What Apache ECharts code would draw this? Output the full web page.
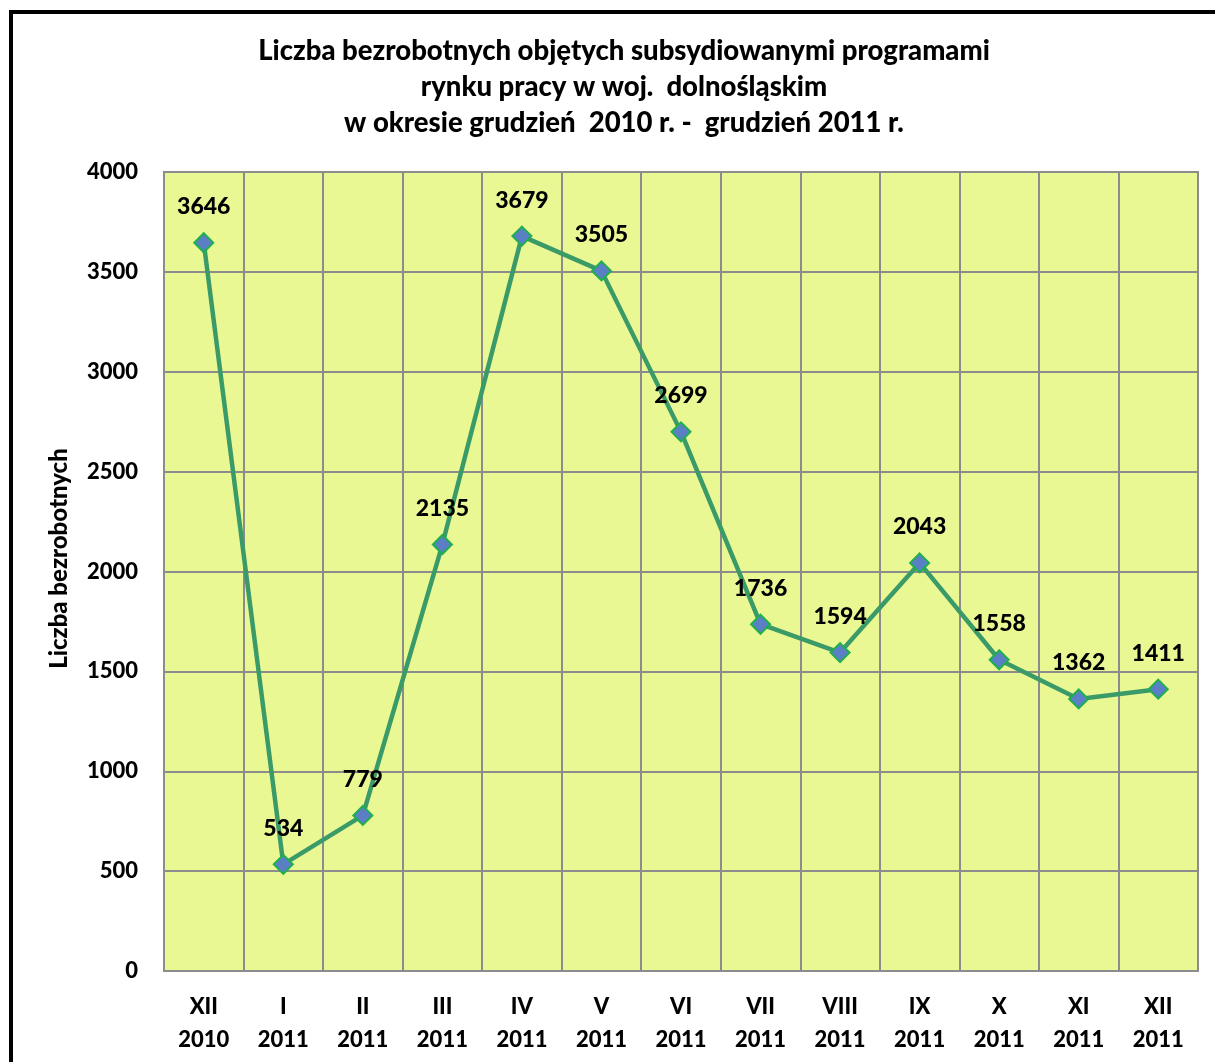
<!DOCTYPE html>
<html><head><meta charset="utf-8">
<script src="https://cdn.jsdelivr.net/npm/echarts@6/dist/echarts.min.js"></script>
<style>html,body{margin:0;padding:0;background:#fff}#c{width:1215px;height:1062px}</style>
</head><body><div id="c"></div>
<script>
const months = ['XII', 'I', 'II', 'III', 'IV', 'V', 'VI', 'VII', 'VIII', 'IX', 'X', 'XI', 'XII'];
const years = ['2010', '2011', '2011', '2011', '2011', '2011', '2011', '2011', '2011', '2011', '2011', '2011', '2011'];
const values = [3646, 534, 779, 2135, 3679, 3505, 2699, 1736, 1594, 2043, 1558, 1362, 1411];
const yTicks = [0, 500, 1000, 1500, 2000, 2500, 3000, 3500, 4000];
const titleLines = ['Liczba bezrobotnych objętych subsydiowanymi programami', 'rynku pracy w woj.  dolnośląskim', 'w okresie grudzień  2010 r. -  grudzień 2011 r.'];
const yName = 'Liczba bezrobotnych';

const categories = months.map((m, i) => m + '\n' + years[i]);
const FONT = 'Lato, "Open Sans", sans-serif';
const W = 900;
const chart = echarts.init(document.getElementById('c'));
chart.setOption({
  animation: false,
  backgroundColor: '#fff',
  title: {
    text: titleLines.join('\n'),
    left: 619, top: 28, textAlign: 'center',
    textStyle: { fontFamily: FONT, fontWeight: W, fontSize: 27.5, lineHeight: 36, color: '#000' }
  },
  graphic: [{
    type: 'rect', shape: { x: 11, y: 12, width: 1300, height: 1200 },
    style: { fill: 'none', stroke: '#000', lineWidth: 4 }, silent: true
  }],
  grid: {
    left: 164, right: 17, top: 172, bottom: 91, show: true,
    backgroundColor: '#eaf894', borderColor: '#8c8c8c', borderWidth: 2
  },
  xAxis: {
    type: 'category', data: categories, boundaryGap: true,
    axisLine: { show: false }, axisTick: { show: false },
    splitLine: { show: true, lineStyle: { color: '#8c8c8c', width: 2 } },
    axisLabel: { interval: 0, margin: 19, fontFamily: FONT, fontWeight: W, fontSize: 22, lineHeight: 33, color: '#000' }
  },
  yAxis: {
    type: 'value', min: yTicks[0], max: yTicks[yTicks.length - 1], interval: 500,
    name: yName, nameLocation: 'middle', nameGap: 93, nameRotate: 90,
    nameTextStyle: { fontFamily: FONT, fontWeight: W, fontSize: 24, color: '#000', padding: [0, 0, 0, 26] },
    axisLine: { show: false }, axisTick: { show: false },
    splitLine: { show: true, lineStyle: { color: '#8c8c8c', width: 2 } },
    axisLabel: { margin: 26, fontFamily: FONT, fontWeight: W, fontSize: 22, color: '#000', formatter: v => String(v) }
  },
  series: [{
    type: 'line', data: values,
    symbol: 'diamond', symbolSize: 19,
    lineStyle: { color: '#3a9a68', width: 4.5 },
    itemStyle: { color: '#5b7fc4', borderColor: '#1db04c', borderWidth: 2 },
    label: { show: true, position: 'top', distance: 14, fontFamily: FONT, fontWeight: W, fontSize: 23, color: '#000' }
  }]
});
</script></body></html>
